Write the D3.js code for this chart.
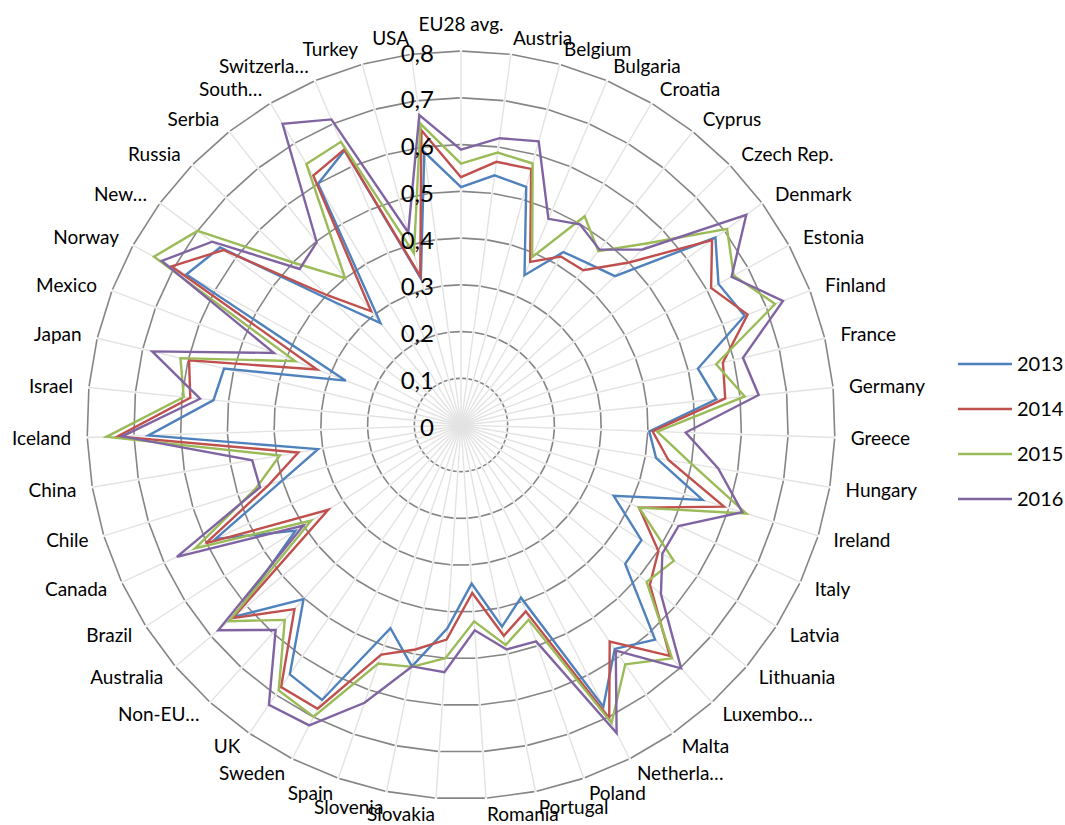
<!DOCTYPE html>
<html>
<head>
<meta charset="utf-8">
<script src="https://cdn.jsdelivr.net/npm/d3@7"></script>
<style>
  body { margin: 0; background: #fff; }
  text { font-family: Lato, "Open Sans", sans-serif; fill: #000; }
</style>
</head>
<body>
<svg id="chart" width="1065" height="825"></svg>
<script>
// ---- Data ----
const categories = ["EU28 avg.", "Austria", "Belgium", "Bulgaria", "Croatia", "Cyprus",
  "Czech Rep.", "Denmark", "Estonia", "Finland", "France", "Germany", "Greece", "Hungary",
  "Ireland", "Italy", "Latvia", "Lithuania", "Luxembo…", "Malta", "Netherla…", "Poland",
  "Portugal", "Romania", "Slovakia", "Slovenia", "Spain", "Sweden", "UK", "Non-EU…",
  "Australia", "Brazil", "Canada", "Chile", "China", "Iceland", "Israel", "Japan", "Mexico",
  "Norway", "New…", "Russia", "Serbia", "South…", "Switzerla…", "Turkey", "USA"];

const v2013 = [0.509, 0.539, 0.528, 0.348, 0.43, 0.44, 0.458, 0.676, 0.628, 0.65, 0.521, 0.549,
  0.403, 0.423, 0.541, 0.36, 0.458, 0.46, 0.619, 0.581, 0.675, 0.391, 0.44, 0.34, 0.436, 0.527,
  0.46, 0.659, 0.647, 0.502, 0.635, 0.42, 0.579, 0.40, 0.31, 0.669, 0.532, 0.521, 0.264,
  0.67, 0.64, 0.38, 0.278, 0.60, 0.638, 0.325, 0.589];
const v2014 = [0.53, 0.568, 0.568, 0.379, 0.419, 0.422, 0.50, 0.667, 0.61, 0.657, 0.576, 0.568,
  0.41, 0.45, 0.589, 0.42, 0.501, 0.529, 0.666, 0.562, 0.703, 0.422, 0.46, 0.36, 0.46, 0.49,
  0.52, 0.68, 0.68, 0.531, 0.64, 0.337, 0.602, 0.43, 0.353, 0.735, 0.582, 0.598, 0.33,
  0.706, 0.631, 0.40, 0.31, 0.62, 0.64, 0.33, 0.636];
const v2015 = [0.559, 0.588, 0.58, 0.39, 0.519, 0.474, 0.56, 0.707, 0.665, 0.72, 0.561, 0.61,
  0.42, 0.50, 0.639, 0.42, 0.54, 0.52, 0.673, 0.621, 0.714, 0.441, 0.48, 0.421, 0.50, 0.528,
  0.54, 0.699, 0.689, 0.562, 0.65, 0.38, 0.627, 0.46, 0.393, 0.759, 0.596, 0.617, 0.38,
  0.749, 0.70, 0.50, 0.40, 0.649, 0.658, 0.381, 0.65];
const v2016 = [0.589, 0.619, 0.629, 0.479, 0.499, 0.478, 0.54, 0.758, 0.66, 0.738, 0.62, 0.64,
  0.481, 0.558, 0.63, 0.513, 0.511, 0.56, 0.702, 0.585, 0.738, 0.49, 0.49, 0.44, 0.53, 0.527,
  0.629, 0.72, 0.726, 0.591, 0.68, 0.40, 0.67, 0.45, 0.453, 0.725, 0.561, 0.679, 0.429,
  0.73, 0.661, 0.48, 0.498, 0.749, 0.71, 0.427, 0.669];

const years = ["2013", "2014", "2015", "2016"];
const colors = ["#4F81BD", "#C0504D", "#9BBB59", "#8064A2"];
const tickValues = [0, 0.1, 0.2, 0.3, 0.4, 0.5, 0.6, 0.7, 0.8];
const tickLabels = ["0", "0,1", "0,2", "0,3", "0,4", "0,5", "0,6", "0,7", "0,8"];

const series = [v2013, v2014, v2015, v2016].map((v, i) => ({ name: years[i], color: colors[i], values: v }));

// ---- Geometry ----
const cx = 461, cy = 425, R = 374;
const n = categories.length;
const r = d3.scaleLinear().domain([0, 0.8]).range([0, R]);
const ang = d3.scaleLinear().domain([0, n]).range([0, 2 * Math.PI]);
const px = (i, rad) => rad * Math.sin(ang(i));
const py = (i, rad) => -rad * Math.cos(ang(i));

const svg = d3.select("#chart");
const g = svg.append("g").attr("transform", `translate(${cx},${cy})`);

// spokes
g.append("g").selectAll("line")
  .data(d3.range(n))
  .join("line")
    .attr("x1", 0).attr("y1", 0)
    .attr("x2", i => px(i, R)).attr("y2", i => py(i, R))
    .attr("stroke", "#e3e3e3")
    .attr("stroke-width", 1.4);

// rings: one line per polygon edge, a small gap at each vertex
const gap = 1.2;
const rings = g.append("g");
tickValues.slice(1).forEach(t => {
  const rad = r(t);
  d3.range(n).forEach(i => {
    const x1 = px(i, rad), y1 = py(i, rad), x2 = px(i + 1, rad), y2 = py(i + 1, rad);
    const len = Math.hypot(x2 - x1, y2 - y1);
    const ux = (x2 - x1) / len, uy = (y2 - y1) / len;
    rings.append("line")
      .attr("x1", x1 + ux * gap).attr("y1", y1 + uy * gap)
      .attr("x2", x2 - ux * gap).attr("y2", y2 - uy * gap)
      .attr("stroke", "#858585")
      .attr("stroke-width", 1.6);
  });
});

// series
const line = d3.lineRadial()
  .angle((d, i) => ang(i))
  .radius(d => r(d))
  .curve(d3.curveLinearClosed);

g.append("g").selectAll("path")
  .data(series)
  .join("path")
    .attr("d", d => line(d.values))
    .attr("fill", "none")
    .attr("stroke", d => d.color)
    .attr("stroke-width", 2.4)
    .attr("stroke-linejoin", "miter");

// value axis labels
g.append("g").selectAll("text")
  .data(tickValues)
  .join("text")
    .attr("x", -27)
    .attr("y", t => -r(t) + 2)
    .attr("dy", "0.36em")
    .attr("text-anchor", "end")
    .style("font-size", "24px")
    .text((t, i) => tickLabels[i]);

// category labels
const LR = 390;
g.append("g").selectAll("text")
  .data(categories)
  .join("text")
    .attr("x", (c, i) => px(i, LR))
    .attr("y", (c, i) => py(i, LR))
    .attr("dy", (c, i) => i === 0 ? "-0.2em" : "0.36em")
    .attr("text-anchor", (c, i) => {
      const s = Math.sin(ang(i));
      return Math.abs(s) < 1e-6 ? "middle" : (s > 0 ? "start" : "end");
    })
    .style("font-size", "19px")
    .text(c => c);

// legend
const legend = svg.append("g").attr("transform", "translate(958,364)");
const item = legend.selectAll("g")
  .data(series)
  .join("g")
    .attr("transform", (d, i) => `translate(0,${i * 45})`);
item.append("line")
  .attr("x1", 0).attr("x2", 54)
  .attr("stroke", d => d.color)
  .attr("stroke-width", 2.4);
item.append("text")
  .attr("x", 59)
  .attr("dy", "0.36em")
  .style("font-size", "20px")
  .text(d => d.name);
</script>
</body>
</html>
